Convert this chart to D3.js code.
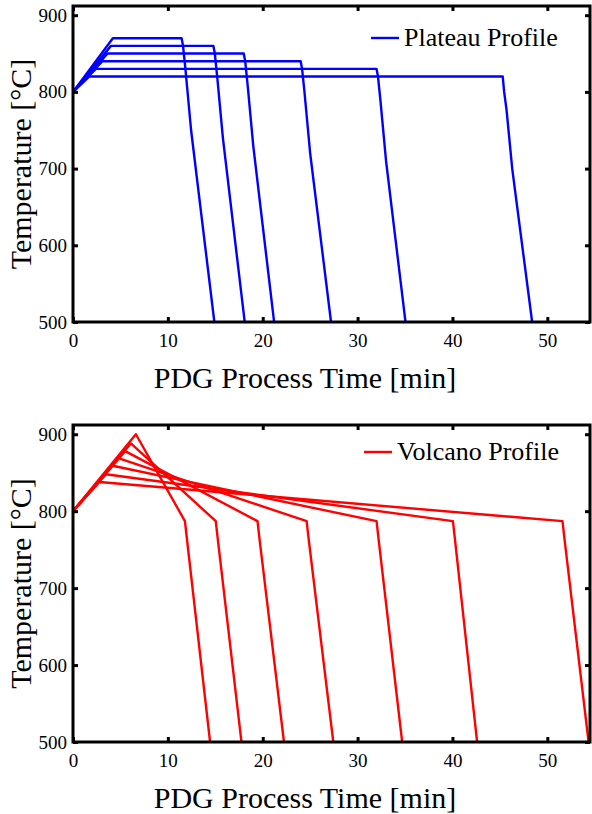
<!DOCTYPE html>
<html>
<head>
<meta charset="utf-8">
<script src="https://cdn.jsdelivr.net/npm/d3@7"></script>
<style>
  body { margin: 0; background: #fff; }
  text { font-family: "Liberation Serif", "Times New Roman", serif; fill: #000; }
</style>
</head>
<body>
<div class="displayContainer"></div>
<script>
// tick values shared by both panels
const xTicks = [0, 10, 20, 30, 40, 50];
const yTicks = [500, 600, 700, 800, 900];

// plateau profile: [time min, temp C] points
const plateauCurves = [
  [[0, 800], [4.2, 870], [11.45, 870], [11.6, 860], [11.85, 830], [12.45, 750], [14.9, 500]],
  [[0, 800], [4.0, 860], [14.8, 860], [14.95, 850], [15.2, 820], [15.8, 740], [18.1, 500]],
  [[0, 800], [3.65, 850], [18.0, 850], [18.15, 840], [18.4, 810], [19.0, 730], [21.2, 500]],
  [[0, 800], [3.1, 840], [24.0, 840], [24.15, 830], [24.4, 800], [25.0, 720], [27.2, 500]],
  [[0, 800], [2.4, 830], [32.0, 830], [32.15, 820], [32.4, 790], [33.0, 710], [35.05, 500]],
  [[0, 800], [1.7, 820], [45.3, 820], [45.45, 800], [45.7, 777], [46.3, 700], [48.4, 500]]
];

// volcano profile
const volcanoCurves = [
  [[0, 800], [6.63, 900], [11.8, 787], [12.0, 765], [14.45, 500]],
  [[0, 800], [6.1, 888], [15.05, 787], [15.25, 765], [17.76, 500]],
  [[0, 800], [5.5, 878], [19.45, 787], [19.65, 765], [22.24, 500]],
  [[0, 800], [4.77, 869], [24.63, 787], [24.83, 765], [27.44, 500]],
  [[0, 800], [4.18, 859], [32.0, 787], [32.2, 765], [34.7, 500]],
  [[0, 800], [3.47, 848], [40.05, 787], [40.25, 765], [42.6, 500]],
  [[0, 800], [2.77, 838], [51.6, 787], [51.8, 765], [54.35, 500]]
];

const svg = d3.select('.displayContainer')
              .append('svg')
              .attr('width', 592)
              .attr('height', 814)
              .style('background-color', '#fff');

const left = 73, right = 590;
const xScale = d3.scaleLinear().domain([0, 54.5]).range([left, right]);

//draws one panel (box axes, ticks, lines, legend)
function drawPanel(top, bottom, curves, color, legendText, legendX, legendY, id) {
  const yScale = d3.scaleLinear().domain([500, 912]).range([bottom, top]);
  const g = svg.append('g');

  g.append('clipPath').attr('id', 'clip' + id)
    .append('rect')
    .attr('x', left).attr('y', top)
    .attr('width', right - left).attr('height', bottom - top);

  const line = d3.line()
                 .x(d => xScale(d[0]))
                 .y(d => yScale(d[1]));

  g.append('g').attr('clip-path', 'url(#clip' + id + ')')
    .selectAll('path')
    .data(curves)
    .enter()
    .append('path')
    .attr('d', line)
    .attr('fill', 'none')
    .attr('stroke', color)
    .attr('stroke-width', 2.4)
    .attr('stroke-linejoin', 'round');

  const tickLen = 5;
  // axes: bottom & left with labels, top & right mirrored with no labels
  const xAxisB = d3.axisBottom(xScale).tickValues(xTicks).tickSizeInner(-tickLen).tickSizeOuter(0).tickPadding(12);
  const xAxisT = d3.axisTop(xScale).tickValues(xTicks).tickSizeInner(-tickLen).tickSizeOuter(0).tickFormat('');
  const yAxisL = d3.axisLeft(yScale).tickValues(yTicks).tickSizeInner(-tickLen).tickSizeOuter(0).tickPadding(6);
  const yAxisR = d3.axisRight(yScale).tickValues(yTicks).tickSizeInner(-tickLen).tickSizeOuter(0).tickFormat('');

  const axes = [
    g.append('g').attr('transform', `translate(0,${bottom})`).call(xAxisB),
    g.append('g').attr('transform', `translate(0,${top})`).call(xAxisT),
    g.append('g').attr('transform', `translate(${left},0)`).call(yAxisL),
    g.append('g').attr('transform', `translate(${right},0)`).call(yAxisR)
  ];
  axes.forEach(a => {
    a.select('.domain').remove();
    a.selectAll('line').attr('stroke', '#000').attr('stroke-width', 3);
    a.selectAll('text')
      .style('font-family', '"Liberation Serif", serif')
      .style('font-size', '19px')
      .attr('fill', '#000');
  });

  g.append('rect')
    .attr('x', left).attr('y', top)
    .attr('width', right - left).attr('height', bottom - top)
    .attr('fill', 'none')
    .attr('stroke', '#000')
    .attr('stroke-width', 3);

  // axis titles
  g.append('text')
    .attr('x', 305).attr('y', bottom + 66)
    .attr('text-anchor', 'middle')
    .style('font-size', '30px')
    .text('PDG Process Time [min]');

  g.append('text')
    .attr('transform', `translate(31,${(top + bottom) / 2}) rotate(-90)`)
    .attr('text-anchor', 'middle')
    .style('font-size', '30px')
    .text('Temperature [\u00B0C]');

  // legend
  g.append('line')
    .attr('x1', legendX).attr('x2', legendX + 28)
    .attr('y1', legendY).attr('y2', legendY)
    .attr('stroke', color).attr('stroke-width', 2.4);
  g.append('text')
    .attr('x', legendX + 33).attr('y', legendY + 8)
    .style('font-size', '26px')
    .text(legendText);
}

drawPanel(6, 322, plateauCurves, '#0000ff', 'Plateau Profile', 371, 38, 1);
drawPanel(425, 742, volcanoCurves, '#ff0000', 'Volcano Profile', 364, 452, 2);
</script>
</body>
</html>
